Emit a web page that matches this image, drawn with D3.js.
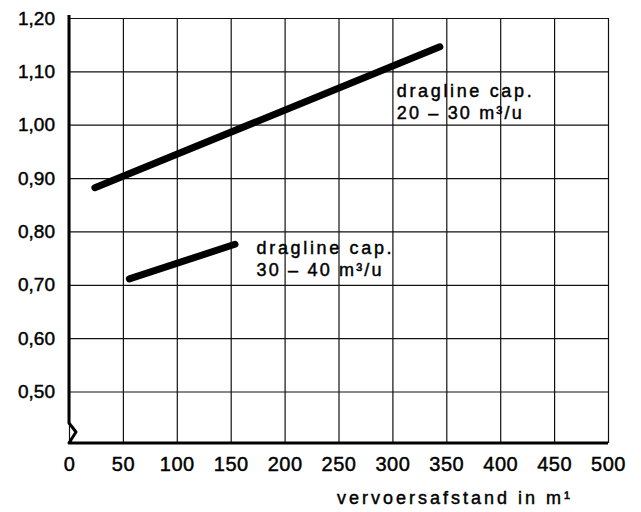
<!DOCTYPE html>
<html>
<head>
<meta charset="utf-8">
<script src="https://cdn.jsdelivr.net/npm/d3@7"></script>
<style>
  body { margin: 0; background: #fff; }
  svg text { font-family: "Liberation Sans", Arial, sans-serif; fill: #000; stroke: #000; stroke-width: 0.45px; }
</style>
</head>
<body>
<svg id="chart" width="641" height="512"></svg>
<script>
"use strict";

// values
var xTicks = [0, 50, 100, 150, 200, 250, 300, 350, 400, 450, 500];
var yTicks = [0.5, 0.6, 0.7, 0.8, 0.9, 1.0, 1.1, 1.2];
var cap2030 = [{x: 24, y: 0.882}, {x: 344, y: 1.146}];
var cap3040 = [{x: 56, y: 0.711}, {x: 154, y: 0.776}];
var label2030 = ["dragline cap.", "20 \u2013 30 m\u00b3/u"];
var label3040 = ["dragline cap.", "30 \u2013 40 m\u00b3/u"];
var xTitle = "vervoersafstand in m\u00b9";

let svg = d3.select("#chart"),
  margin = {top: 18, right: 33, bottom: 69, left: 69},
  width = 641 - margin.left - margin.right,
  height = 512 - margin.top - margin.bottom,
  g = svg.append("g").attr("transform", "translate(" + margin.left + "," + margin.top + ")"),
  x = d3.scaleLinear().domain([0, 500]).range([0, width]),
  y = d3.scaleLinear().domain([0.5, 1.2]).range([373.5, 0]),
  line = d3.line()
    .x(function(d) { return x(d.x); })
    .y(function(d) { return y(d.y); })
;

// grid
g.append("g")
  .attr("class", "grid")
  .attr("transform", "translate(0," + height + ")")
  .call(d3.axisBottom(x).tickValues(xTicks).tickSize(-height).tickFormat(''))
  .call(function(a) { a.select(".domain").remove(); })
  .selectAll("line")
  .attr("stroke", "#111")
  .attr("stroke-width", 1.2)
;

g.append("g")
  .attr("class", "grid")
  .call(d3.axisLeft(y).tickValues(yTicks).tickSize(-width).tickFormat(''))
  .call(function(a) { a.select(".domain").remove(); })
  .selectAll("line")
  .attr("stroke", "#111")
  .attr("stroke-width", 1.2)
;

// tick labels
g.append("g")
  .attr("transform", "translate(0," + height + ")")
  .call(d3.axisBottom(x).tickValues(xTicks).tickSize(0).tickPadding(14).tickFormat(d3.format("d")))
  .call(function(a) { a.select(".domain").remove(); })
  .selectAll("text")
  .attr("font-size", 20)
  .attr("letter-spacing", 0.5)
;

g.append("g")
  .call(d3.axisLeft(y).tickValues(yTicks).tickSize(0).tickPadding(14)
    .tickFormat(function(d) { return d3.format(".2f")(d).replace(".", ","); }))
  .call(function(a) { a.select(".domain").remove(); })
  .selectAll("text")
  .attr("font-size", 19)
;

// axes with the break at the bottom of the y axis
g.append("path")
  .attr("fill", "none")
  .attr("stroke", "#000")
  .attr("stroke-width", 3)
  .attr("stroke-linejoin", "round")
  .attr("d", "M0,-3 V" + (height - 20) + " L7," + (height - 11) + " L0," + height + " H" + width)
;

// the two curves
[cap2030, cap3040].forEach(function(s) {
  g.append("path")
    .datum(s)
    .attr("fill", "none")
    .attr("stroke", "#000")
    .attr("stroke-width", 7)
    .attr("stroke-linecap", "round")
    .attr("d", line);
});

function note(lines, vx, vy) {
  let t = g.append("text")
    .attr("x", x(vx))
    .attr("y", y(vy))
    .attr("font-size", 18);
  lines.forEach(function(l, i) {
    t.append("tspan")
      .attr("x", x(vx))
      .attr("dy", i ? 22.5 : 0)
      .attr("textLength", i ? 125 : 135)
      .attr("lengthAdjust", "spacing")
      .text(l);
  });
}
note(label2030, 304, 1.052);
note(label3040, 174, 0.758);

g.append("text")
  .attr("x", 268)
  .attr("y", height + 61)
  .attr("font-size", 18)
  .attr("textLength", 233)
  .attr("lengthAdjust", "spacing")
  .text(xTitle)
;
</script>
</body>
</html>
